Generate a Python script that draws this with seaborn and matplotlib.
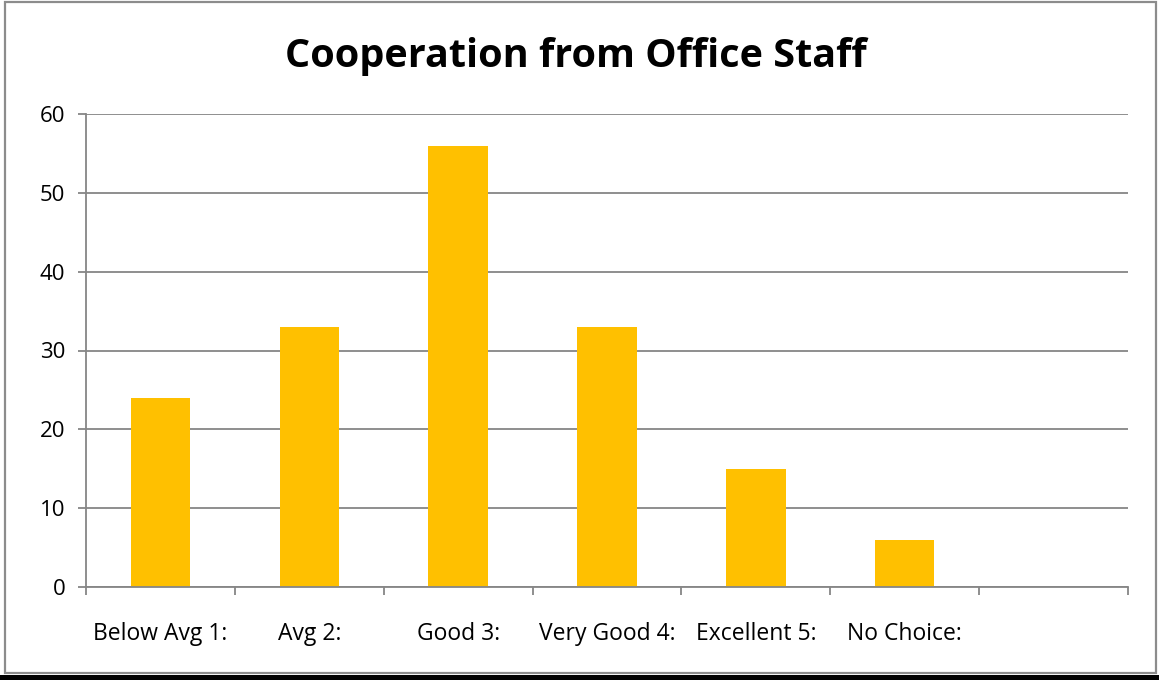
import numpy as np
import pandas as pd
import matplotlib
matplotlib.use("Agg")
import matplotlib.pyplot as plt
import seaborn as sns
from matplotlib.patches import Rectangle

categories = ["Below Avg 1:", "Avg 2:", "Good 3:", "Very Good 4:", "Excellent 5:", "No Choice:", " "]
counts = [24, 33, 56, 33, 15, 6, np.nan]
yticks = [0, 10, 20, 30, 40, 50, 60]

sns.set_style("white")
plt.rcParams["font.family"] = ["Open Sans", "DejaVu Sans"]
plt.rcParams["text.color"] = "black"
plt.rcParams["xtick.color"] = "black"
plt.rcParams["ytick.color"] = "black"

df = pd.DataFrame({"category": categories, "count": counts})

fig = plt.figure(figsize=(11.59, 6.80), dpi=100)
ax = fig.add_axes([86 / 1159, 1 - 587 / 680, (1128 - 86) / 1159, (587 - 114) / 680])

grid_c = "#868686"
sns.barplot(data=df, x="category", y="count", order=categories, color="#FFC000",
            saturation=1, width=0.4, linewidth=0, ax=ax)

ax.set_xlim(-0.5, len(categories) - 0.5)
ax.set_ylim(0, 60)
ax.set_yticks(yticks)
ax.yaxis.grid(True, color=grid_c, linewidth=1.3)
ax.set_axisbelow(True)
ax.set_xlabel("")
ax.set_ylabel("")

for side in ["top", "right"]:
    ax.spines[side].set_visible(False)
for side in ["left", "bottom"]:
    ax.spines[side].set_color(grid_c)
    ax.spines[side].set_linewidth(1.3)

# category labels centered in slots, tick marks on slot boundaries
ax.set_xticks(range(len(categories)))
ax.set_xticklabels(categories, fontsize=16.5)
ax.tick_params(axis="x", which="major", bottom=True, length=0, pad=25, labelcolor="black")
ax.set_xticks(np.arange(-0.5, len(categories)), minor=True)
ax.tick_params(axis="x", which="minor", bottom=True, length=6, width=1.3, color=grid_c, direction="out")
ax.tick_params(axis="y", left=True, length=6, width=1.3, color=grid_c, direction="out",
               labelsize=16, pad=9, labelcolor="black")

fig.text(576 / 1159, 1 - 57 / 680, "Cooperation from Office Staff", ha="center", va="center",
         fontsize=28.5, fontweight="bold", color="black")

# outer frame
fig.patches.append(Rectangle((5 / 1159, 7 / 680), 1151 / 1159, 671 / 680, transform=fig.transFigure,
                             fill=False, edgecolor="#8c8c8c", linewidth=1.6))
fig.patches.append(Rectangle((0, 0), 1, 5 / 680, transform=fig.transFigure,
                             facecolor="black", edgecolor="none"))

fig.savefig("out.png", dpi=100, facecolor="white")
